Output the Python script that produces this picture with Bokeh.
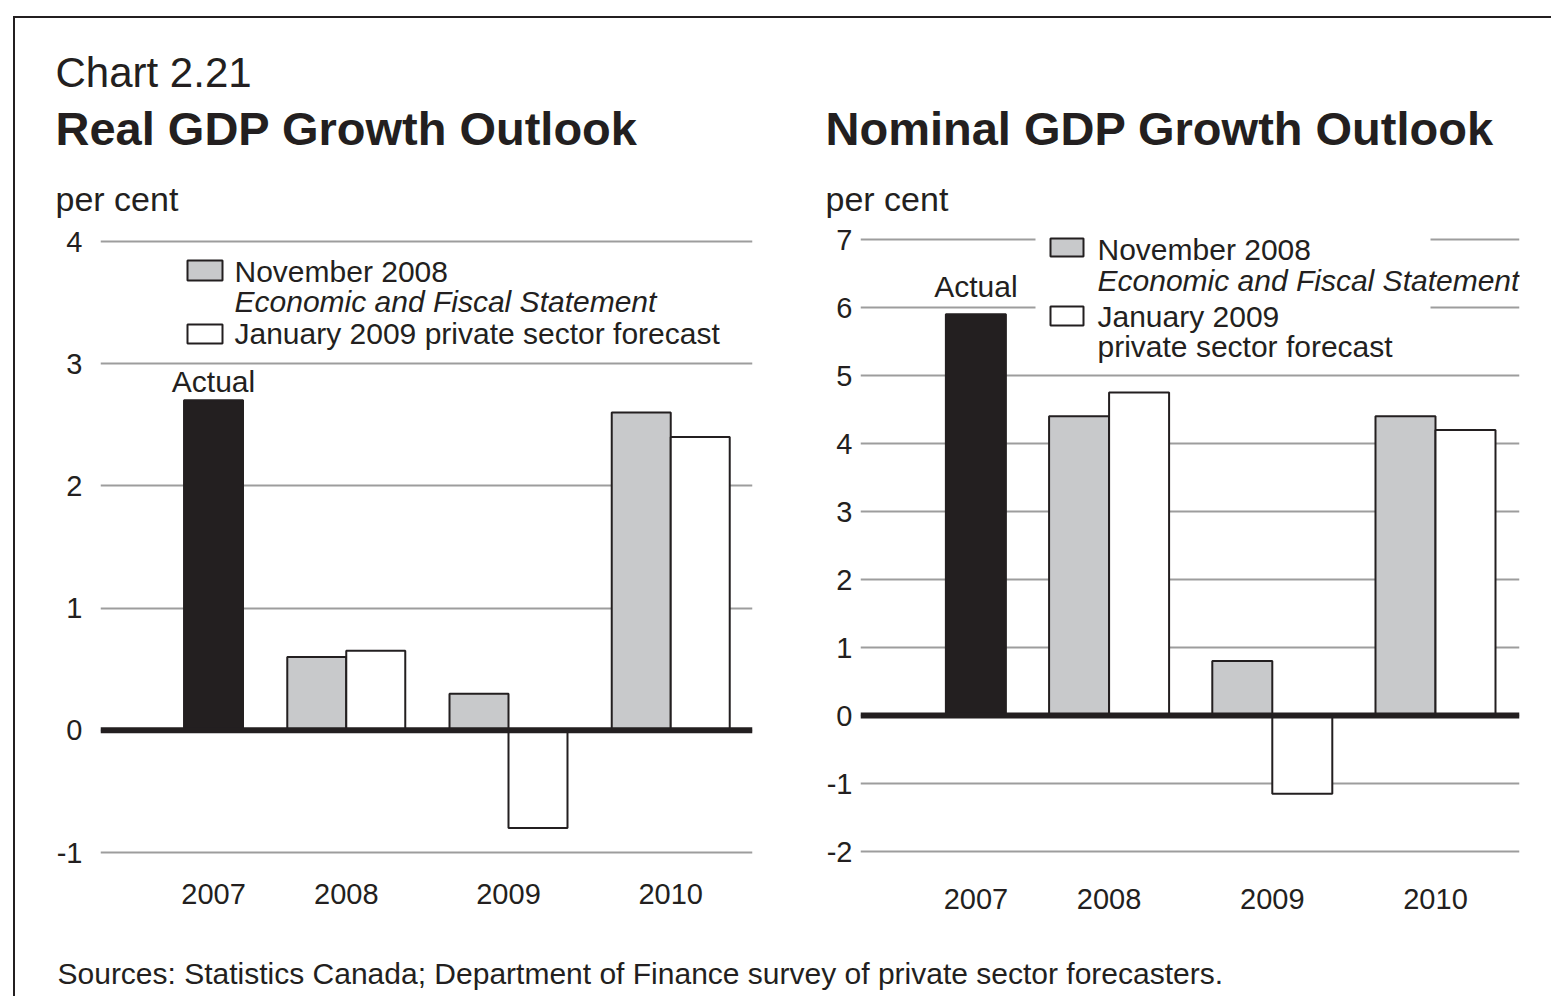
from bokeh.plotting import figure
from bokeh.models import FactorRange, Range1d, FixedTicker, Span, Label, BoxAnnotation
from bokeh.layouts import column, row
from bokeh.embed import file_html
from bokeh.resources import INLINE
from bokeh.core.properties import value

FONT = "Liberation Sans"
INK = "#231f20"
NOV_FILL = "#c8c9cb"
JAN_FILL = "#ffffff"
GRID_COLOR = "#9d9d9d"

# ---------------- data ----------------
chart_number = "Chart 2.21"
real_title = "Real GDP Growth Outlook"
nominal_title = "Nominal GDP Growth Outlook"
unit_label = "per cent"
source_note = "Sources: Statistics Canada; Department of Finance survey of private sector forecasters."
actual_label = "Actual"
nov_label = ["November 2008", "Economic and Fiscal Statement"]
jan_label_real = ["January 2009 private sector forecast"]
jan_label_nominal = ["January 2009", "private sector forecast"]

years = ["2007", "2008", "2009", "2010"]
actual_year = "2007"
forecast_years = ["2008", "2009", "2010"]

real_actual = [2.7]
real_nov2008 = [0.6, 0.3, 2.6]
real_jan2009 = [0.65, -0.8, 2.4]
real_ticks = [-1, 0, 1, 2, 3, 4]

nominal_actual = [5.9]
nominal_nov2008 = [4.4, 0.8, 4.4]
nominal_jan2009 = [4.75, -1.15, 4.2]
nominal_ticks = [-2, -1, 0, 1, 2, 3, 4, 5, 6, 7]

# ---------------- layout (page pixels) ----------------
OX, OY = 15, 18
LEFT_W = 775
RIGHT_W = 761
TOTAL_W = LEFT_W + RIGHT_W
HEADER_H = 204
CHART_H = 698
SRC_H = 76
CHART_TOP = OY + HEADER_H
CHART_BOTTOM = CHART_TOP + CHART_H
FRAME_TOP = 234
MID = 0.38  # text centre sits this fraction of the font size above the baseline


def centre(baseline_px, size):
    return baseline_px - MID * size


def make_chart(cfg, actual, nov, jan, ticks, legend_texts):
    factors = [("pad", " ", " "), ("main", actual_year, "Actual")] + \
              [("main", y, s) for y in forecast_years for s in ("Nov", "Jan")]
    G, S, P = cfg["group_pad"], cfg["sub_pad"], cfg["pad"]
    xr = FactorRange(factors=factors, group_padding=G, subgroup_padding=S,
                     factor_padding=0.0, range_padding=P, range_padding_units="absolute")
    total = len(factors) + G + (len(years) - 1) * S
    fw = cfg["frame_r"] - cfg["frame_l"]
    u = fw / (total + 2 * P)

    def x_of(px):
        return (px - cfg["frame_l"]) / u - P

    def y_of(py):
        return (cfg["zero_px"] - py) / cfg["ppu"]

    yr = Range1d(y_of(CHART_BOTTOM), y_of(FRAME_TOP))
    p = figure(width=cfg["width"], height=CHART_H, x_range=xr, y_range=yr, title=None,
               output_backend="svg", toolbar_location=None, x_axis_location=None,
               min_border_left=cfg["frame_l"] - cfg["x0"],
               min_border_right=cfg["x0"] + cfg["width"] - cfg["frame_r"],
               min_border_top=FRAME_TOP - CHART_TOP, min_border_bottom=0)
    p.outline_line_color = None
    p.xgrid.visible = False
    tk = FixedTicker(ticks=ticks)
    p.yaxis.ticker = tk
    p.yaxis.major_label_overrides = {t: str(t) for t in ticks}
    p.yaxis.axis_line_color = None
    p.yaxis.major_tick_line_color = None
    p.yaxis.minor_tick_line_color = None
    p.yaxis.major_tick_out = 0
    p.yaxis.major_tick_in = 0
    p.yaxis.major_label_standoff = cfg["standoff"]
    p.yaxis.major_label_text_font = FONT
    p.yaxis.major_label_text_font_size = "29px"
    p.yaxis.major_label_text_color = INK
    p.ygrid.ticker = tk
    p.ygrid.grid_line_color = GRID_COLOR
    p.ygrid.grid_line_width = 2

    p.vbar(x=[("main", actual_year, "Actual")], top=actual, bottom=0, width=1.0,
           fill_color=INK, line_color=INK, line_width=2)
    p.vbar(x=[("main", y, "Nov") for y in forecast_years], top=nov, bottom=0, width=1.0,
           fill_color=NOV_FILL, line_color=INK, line_width=2)
    p.vbar(x=[("main", y, "Jan") for y in forecast_years], top=jan, bottom=0, width=1.0,
           fill_color=JAN_FILL, line_color=INK, line_width=2)

    p.add_layout(Span(location=0, dimension="width", line_color=INK, line_width=6))

    p.text(x=[("main", actual_year, "Actual")], y=actual, text=[actual_label],
           text_align="center", text_baseline="middle",
           y_offset=cfg["actual_gap"] - MID * 30,
           text_font=value(FONT), text_font_size="30px", text_color=INK)
    p.text(x=[("main", y) for y in years],
           y=[y_of(centre(cfg["year_base"], 29))] * len(years), text=years,
           text_align="center", text_baseline="middle",
           text_font=value(FONT), text_font_size="29px", text_color=INK)

    if cfg.get("mask"):
        l, r, t, b = cfg["mask"]
        p.add_layout(BoxAnnotation(left=x_of(l), right=x_of(r), top=y_of(t), bottom=y_of(b),
                                   fill_color="white", fill_alpha=1.0, line_color=None))
    for fill, (l, r, t, b) in zip([NOV_FILL, JAN_FILL], cfg["swatches"]):
        p.add_layout(BoxAnnotation(left=x_of(l), right=x_of(r), top=y_of(t), bottom=y_of(b),
                                   fill_color=fill, fill_alpha=1.0, line_color=INK,
                                   line_alpha=1.0, line_width=2))
    for txt, (px, py, style) in zip(legend_texts, cfg["text_pos"]):
        p.add_layout(Label(x=x_of(px), y=y_of(centre(py, 30)), text=txt, text_font=FONT,
                           text_font_size="30px", text_font_style=style, text_color=INK,
                           text_align="left", text_baseline="middle"))
    return p


real_cfg = dict(x0=OX, width=LEFT_W, frame_l=100, frame_r=752, zero_px=729.8, ppu=122.2,
                group_pad=0.03, sub_pad=0.75, pad=0.386, standoff=18, actual_gap=-7,
                year_base=905,
                swatches=[(187, 222, 260, 280), (187, 222, 324, 343)],
                text_pos=[(234, 282, "normal"), (234, 312, "italic"), (234, 344, "normal")],
                mask=None)
nominal_cfg = dict(x0=OX + LEFT_W, width=RIGHT_W, frame_l=860, frame_r=1519, zero_px=715,
                   ppu=68.0, group_pad=0.023, sub_pad=0.72, pad=0.4, standoff=8,
                   actual_gap=-16, year_base=910,
                   swatches=[(1050, 1083, 238, 256), (1050, 1083, 306, 325)],
                   text_pos=[(1097, 260, "normal"), (1097, 291, "italic"),
                             (1097, 327, "normal"), (1097, 357, "normal")],
                   mask=(1035, 1430, 234, 365))

left = make_chart(real_cfg, real_actual, real_nov2008, real_jan2009, real_ticks,
                  nov_label + jan_label_real)
right = make_chart(nominal_cfg, nominal_actual, nominal_nov2008, nominal_jan2009, nominal_ticks,
                   nov_label + jan_label_nominal)


def blank(h):
    f = figure(width=TOTAL_W, height=h, x_range=Range1d(0, TOTAL_W), y_range=Range1d(0, h),
               title=None, output_backend="svg", toolbar_location=None, x_axis_location=None,
               y_axis_location=None, min_border=0)
    f.outline_line_color = None
    f.grid.visible = False
    return f


def htext(f, top_px, h, px, baseline, txt, size, style="normal"):
    f.text(x=[px - OX], y=[top_px + h - centre(baseline, size)], text=[txt], text_align="left",
           text_baseline="middle", text_font=value(FONT), text_font_size=f"{size}px",
           text_font_style=style, text_color=INK)


hdr = blank(HEADER_H)
htext(hdr, OY, HEADER_H, 55, 88, chart_number, 42)
htext(hdr, OY, HEADER_H, 55, 146, real_title, 47, "bold")
htext(hdr, OY, HEADER_H, 825, 146, nominal_title, 47, "bold")
htext(hdr, OY, HEADER_H, 55, 211, unit_label, 34)
htext(hdr, OY, HEADER_H, 825, 211, unit_label, 34)

src = blank(SRC_H)
htext(src, CHART_BOTTOM, SRC_H, 57, 984, source_note, 30)

layout = column(hdr, row(left, right), src, margin=(16, 0, 0, 13),
                styles={"border-top": f"2px solid {INK}", "border-left": f"2px solid {INK}"})

open("out.html", "w").write(file_html(layout, INLINE))
